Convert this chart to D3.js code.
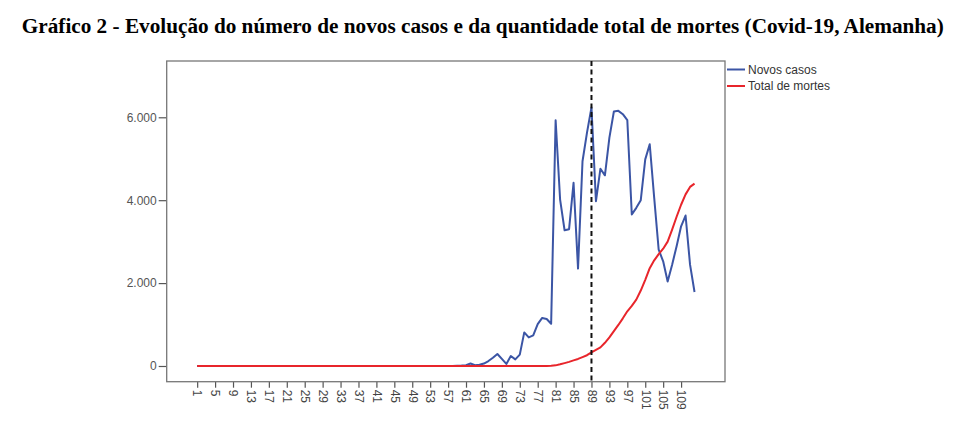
<!DOCTYPE html>
<html>
<head>
<meta charset="utf-8">
<script src="https://cdn.jsdelivr.net/npm/d3@7"></script>
<style>
  html, body { margin: 0; padding: 0; background: #fff; }
  svg { display: block; }
</style>
</head>
<body>
<svg id="chart" width="980" height="429"></svg>
<script>
// ---- Data ----
const title = "Gráfico 2 - Evolução do número de novos casos e da quantidade total de mortes (Covid-19, Alemanha)";
const seriesNames = ["Novos casos", "Total de mortes"];

const novosCasos = [
  0,0,0,0,0,0,0,0,0,0,
  0,0,0,0,0,0,0,0,0,0,
  0,0,0,0,0,0,0,0,0,0,
  0,0,0,0,0,0,0,0,0,0,
  0,0,0,0,0,0,0,0,0,0,
  0,0,0,0,0,0,0,0,
  5,10,20,60,20,30,60,120,200,290,
  170,50,240,160,275,810,690,740,1010,1160,
  1135,1020,
  5930,4015,3275,3300,4420,2350,4940,5630,6235,3975,
  4760,4600,5510,6140,6155,6075,5930,3655,3815,4000,
  4985,5350,4055,2805,2525,2040,2445,2890,3370,3630,
  2445,1785
];

const totalMortes = [
  0,0,0,0,0,0,0,0,0,0,
  0,0,0,0,0,0,0,0,0,0,
  0,0,0,0,0,0,0,0,0,0,
  0,0,0,0,0,0,0,0,0,0,
  0,0,0,0,0,0,0,0,0,0,
  0,0,0,0,0,0,0,0,0,0,
  0,0,0,0,0,0,0,0,0,0,
  0,0,0,0,0,0,0,0,0,
  5,15,40,70,100,135,170,215,260,330,
  390,450,560,690,840,990,1150,1320,1450,1600,
  1820,2080,2360,2550,2700,2830,3000,3290,3600,3890,
  4140,4320,4400
];

const xTickLabels = [1,5,9,13,17,21,25,29,33,37,41,45,49,53,57,61,65,69,73,77,81,85,89,93,97,101,105,109];
const yTickValues = [0, 2000, 4000, 6000];
const markerDay = 89;

// ---- Layout ----
const frame = { left: 166.7, right: 725, top: 61, bottom: 381.7 };
const colors = { cases: "#3b55a5", deaths: "#e8252b" };

const svg = d3.select("#chart");

const x = d3.scaleLinear().domain([-5.8, 118.8]).range([frame.left, frame.right]);
const y = d3.scaleLinear().domain([-379, 7358]).range([frame.bottom, frame.top]);

const locale = d3.formatLocale({ decimal: ",", thousands: ".", grouping: [3], currency: ["", ""] });
const fmt = locale.format(",");

// Title
svg.append("text")
  .attr("x", 482.8)
  .attr("y", 33)
  .attr("text-anchor", "middle")
  .attr("font-family", "'Liberation Serif', 'Times New Roman', serif")
  .attr("font-weight", "bold")
  .attr("font-size", 20)
  .attr("textLength", 922)
  .attr("lengthAdjust", "spacingAndGlyphs")
  .attr("fill", "#000")
  .text(title);

// Y axis
const yAxis = d3.axisLeft(y).tickValues(yTickValues).tickFormat(fmt).tickSize(8).tickPadding(2);
const gy = svg.append("g").attr("transform", `translate(${frame.left},0)`).call(yAxis);
gy.select(".domain").remove();
gy.selectAll(".tick line").attr("stroke", "#555").attr("stroke-width", 1.2);
gy.selectAll(".tick text")
  .attr("font-family", "'Liberation Sans', Arial, sans-serif")
  .attr("font-size", 12)
  .attr("fill", "#555");

// X axis
const xAxis = d3.axisBottom(x).tickValues(xTickLabels).tickFormat(d => d).tickSize(6).tickPadding(2);
const gx = svg.append("g").attr("transform", `translate(0,${frame.bottom})`).call(xAxis);
gx.select(".domain").remove();
gx.selectAll(".tick line").attr("stroke", "#555").attr("stroke-width", 1.2);
gx.selectAll(".tick text")
  .attr("font-family", "'Liberation Sans', Arial, sans-serif")
  .attr("font-size", 12)
  .attr("fill", "#444")
  .attr("text-anchor", "start")
  .attr("transform", "rotate(90)")
  .attr("x", 8)
  .attr("y", 0)
  .attr("dy", "0.35em");

// Frame
svg.append("rect")
  .attr("x", frame.left).attr("y", frame.top)
  .attr("width", frame.right - frame.left).attr("height", frame.bottom - frame.top)
  .attr("fill", "none").attr("stroke", "#777").attr("stroke-width", 1.3);

// Lines
const line = d3.line().x((d, i) => x(i + 1)).y(d => y(d));

svg.append("path").datum(novosCasos)
  .attr("d", line).attr("fill", "none")
  .attr("stroke", colors.cases).attr("stroke-width", 2).attr("stroke-linejoin", "round");

svg.append("path").datum(totalMortes)
  .attr("d", line).attr("fill", "none")
  .attr("stroke", colors.deaths).attr("stroke-width", 2).attr("stroke-linejoin", "round");

// Dashed marker
svg.append("line")
  .attr("x1", x(markerDay)).attr("x2", x(markerDay))
  .attr("y1", frame.top).attr("y2", frame.bottom)
  .attr("stroke", "#111").attr("stroke-width", 2).attr("stroke-dasharray", "5,3.5");

// Legend
const legend = svg.append("g");
const legendItems = [
  { name: seriesNames[0], color: colors.cases, y: 69.5 },
  { name: seriesNames[1], color: colors.deaths, y: 86 }
];
legendItems.forEach(it => {
  legend.append("line")
    .attr("x1", 727).attr("x2", 745).attr("y1", it.y).attr("y2", it.y)
    .attr("stroke", it.color).attr("stroke-width", 2);
  legend.append("text")
    .attr("x", 748).attr("y", it.y).attr("dy", "0.35em")
    .attr("font-family", "'Liberation Sans', Arial, sans-serif")
    .attr("font-size", 12).attr("fill", "#333")
    .text(it.name);
});
</script>
</body>
</html>
